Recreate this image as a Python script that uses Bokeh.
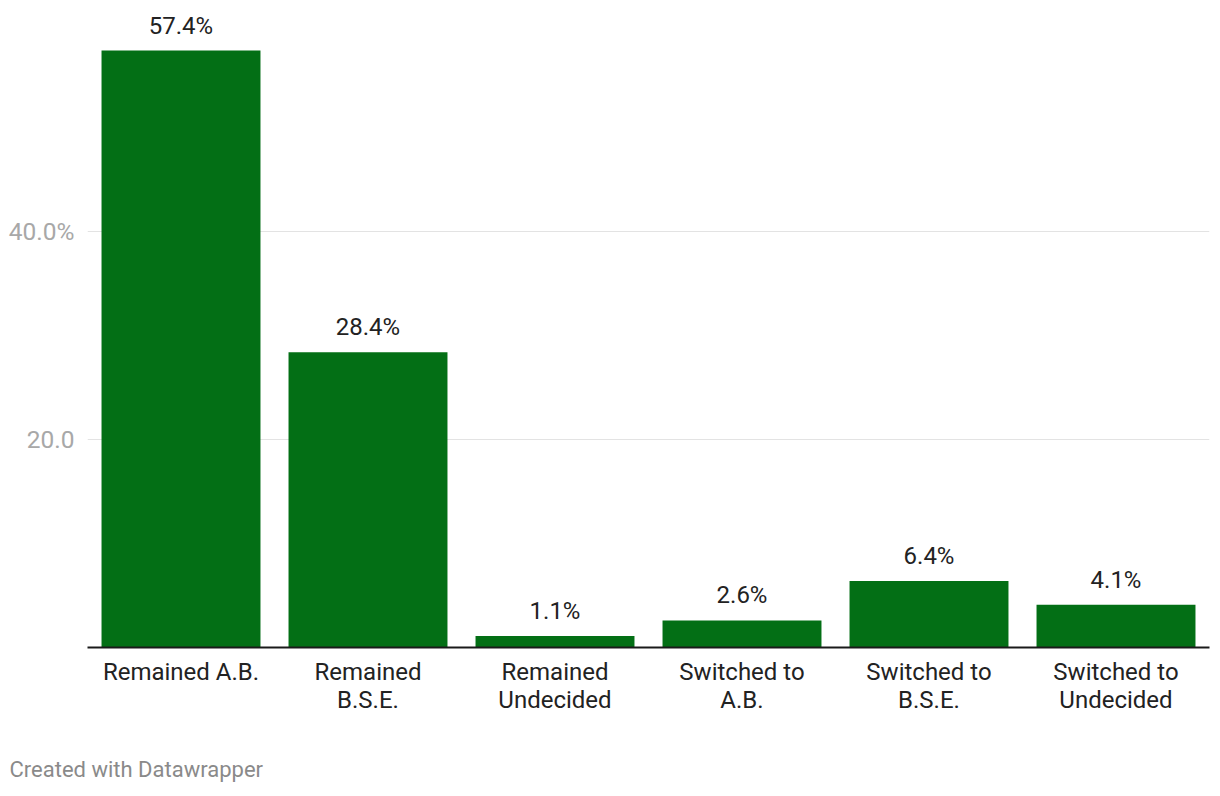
from bokeh.plotting import figure
from bokeh.models import ColumnDataSource, FactorRange, FixedTicker, Title, Range1d
from bokeh.core.properties import value
from bokeh.embed import file_html
from bokeh.resources import INLINE

categories = ["Remained A.B.", "Remained\nB.S.E.", "Remained\nUndecided",
              "Switched to\nA.B.", "Switched to\nB.S.E.", "Switched to\nUndecided"]
shares = [57.4, 28.4, 1.1, 2.6, 6.4, 4.1]
value_labels = [f"{v}%" for v in shares]
y_ticks = [20, 40]
y_tick_labels = {20: "20.0", 40: "40.0%"}

FONT = "Roboto"
BAR = "#036f15"

src = ColumnDataSource(dict(cat=categories, v=shares, lbl=value_labels))

p = figure(frame_width=1122, frame_height=639, output_backend="svg", toolbar_location=None,
           x_range=FactorRange(factors=categories, range_padding=0),
           y_range=Range1d(0, 61.44),
           min_border_left=87, min_border_right=2, min_border_top=8, min_border_bottom=0)
p.outline_line_color = None
p.background_fill_color = "white"
p.border_fill_color = "white"

p.vbar(x="cat", top="v", width=0.85, source=src, color=BAR, line_color=None)
p.text(x="cat", y="v", text="lbl", source=src, y_offset=-11,
       text_align="center", text_baseline="bottom",
       text_font=value(FONT), text_font_size="24px", text_color="#222222")

# y axis
p.yaxis.ticker = FixedTicker(ticks=y_ticks)
p.yaxis.major_label_overrides = y_tick_labels
p.yaxis.axis_line_color = None
p.yaxis.major_tick_line_color = None
p.yaxis.minor_tick_line_color = None
p.yaxis.major_tick_out = 0
p.yaxis.major_tick_in = 0
p.yaxis.major_label_standoff = 13
p.yaxis.major_label_text_font = FONT
p.yaxis.major_label_text_font_size = "24.5px"
p.yaxis.major_label_text_color = "#a8a8a8"

p.ygrid.grid_line_color = "#e3e3e3"
p.ygrid.grid_line_width = 1
p.xgrid.grid_line_color = None

# x axis
p.xaxis.axis_line_color = "#1a1a1a"
p.xaxis.axis_line_width = 2
p.xaxis.major_tick_line_color = None
p.xaxis.minor_tick_line_color = None
p.xaxis.major_tick_out = 0
p.xaxis.major_tick_in = 0
p.xaxis.major_label_standoff = 10
p.xaxis.major_label_text_font = FONT
p.xaxis.major_label_text_font_size = "24px"
p.xaxis.major_label_text_color = "#222222"
p.xaxis.major_label_text_line_height = 1.0

footer = Title(text="Created with Datawrapper", align="left", text_font=FONT,
               text_font_size="22px", text_font_style="normal",
               text_color="#8a8a8a", offset=-78, standoff=76)
p.add_layout(footer, "below")

open("out.html", "w").write(file_html(p, INLINE))
